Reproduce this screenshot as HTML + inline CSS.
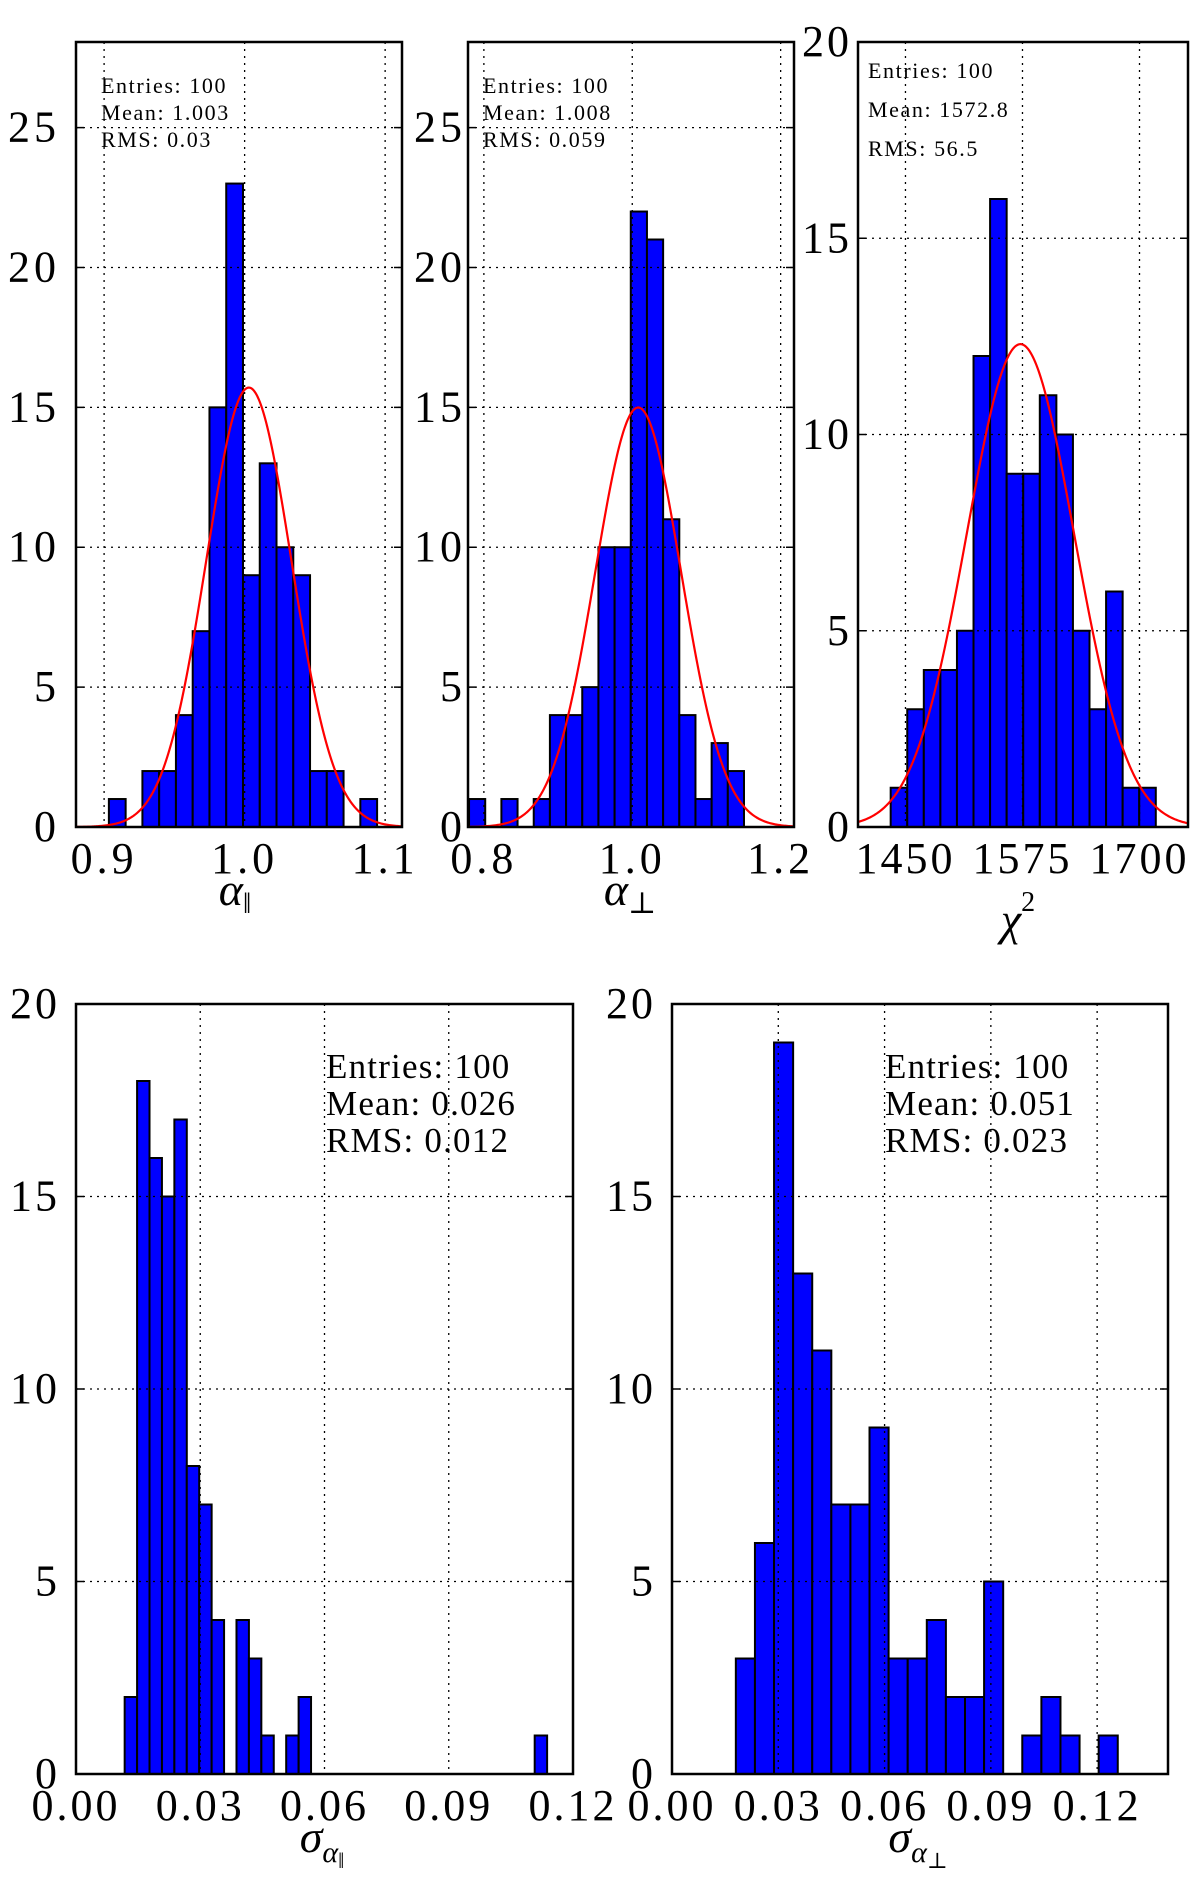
<!DOCTYPE html>
<html><head><meta charset="utf-8"><style>
html,body{margin:0;padding:0;background:#fff}
svg{display:block}
text{font-family:"Liberation Serif","DejaVu Serif",serif;fill:#000}
</style></head><body>
<svg id="fig" width="1200" height="1893" viewBox="0 0 1200 1893" xmlns="http://www.w3.org/2000/svg"></svg>
<script>
// ---- data ----
const p1Counts=[1,0,2,2,4,7,15,23,9,13,10,9,2,2,0,1];
const p1Start=0.9034, p1Width=0.01193;
const p1XTicks=[0.9,1.0,1.1]; const p1XLabels=["0.9","1.0","1.1"];
const p1Stats=["Entries:  100","Mean: 1.003","RMS: 0.03"];
const p1Fit=[1.003,0.0303];

const p2Counts=[1,0,1,0,1,4,4,5,10,10,22,21,11,4,1,3,2];
const p2Start=0.78, p2Width=0.0218;
const p2XTicks=[0.8,1.0,1.2]; const p2XLabels=["0.8","1.0","1.2"];
const p2Stats=["Entries:  100","Mean: 1.008","RMS: 0.059"];
const p2Fit=[1.008,0.058];

const p3Counts=[1,3,4,4,5,12,16,9,9,11,10,5,3,6,1,1];
const p3Start=1434.2, p3Width=17.7;
const p3XTicks=[1450,1575,1700]; const p3XLabels=["1450","1575","1700"];
const p3Stats=["Entries:  100","Mean: 1572.8","RMS: 56.5"];
const p3Fit=[1572.8,57.4];

const p4Counts=[2,18,16,15,17,8,7,4,0,4,3,1,0,1,2,0,0,0,0,0,0,0,0,0,0,0,0,0,0,0,0,0,0,1];
const p4Start=0.01175, p4Width=0.003;
const p4XTicks=[0,0.03,0.06,0.09,0.12]; const p4XLabels=["0.00","0.03","0.06","0.09","0.12"];
const p4Stats=["Entries:  100","Mean:  0.026","RMS: 0.012"];

const p5Counts=[3,6,19,13,11,7,7,9,3,3,4,2,2,5,0,1,2,1,0,1];
const p5Start=0.01802, p5Width=0.00539;
const p5XTicks=[0,0.03,0.06,0.09,0.12]; const p5XLabels=["0.00","0.03","0.06","0.09","0.12"];
const p5Stats=["Entries:  100","Mean:  0.051","RMS: 0.023"];

const topYTicks=[0,5,10,15,20,25];
const chiYTicks=[0,5,10,15,20];
const botYTicks=[0,5,10,15,20];

const NS="http://www.w3.org/2000/svg";
const svg=document.getElementById('fig');
function mk(tag,attrs,parent){const e=document.createElementNS(NS,tag);for(const k in attrs)e.setAttribute(k,attrs[k]);(parent||svg).appendChild(e);return e;}

function panel(o){
  const g=mk('g',{});
  
  
  const sx=v=>o.x0+(v-o.xmin)/(o.xmax-o.xmin)*(o.x1-o.x0);
  const sy=v=>o.y1-(v-0)/(o.ymax)*(o.y1-o.y0);
  o.counts.forEach((c,i)=>{
    if(c<=0)return;
    const a=sx(o.start+i*o.width), b=sx(o.start+(i+1)*o.width);
    const r=mk('rect',{x:a,y:sy(c),width:b-a,height:sy(0)-sy(c),fill:'#0000ff',stroke:'#000','stroke-width':2},g);
    
    
  });
  o.xticks.forEach(t=>{const x=sx(t);const l=mk('line',{x1:x,x2:x,y1:o.y0,y2:o.y1,stroke:'#000','stroke-width':1.3,'stroke-dasharray':'2,5'},g);
    });
  o.yticks.forEach(t=>{const y=sy(t);const l=mk('line',{x1:o.x0,x2:o.x1,y1:y,y2:y,stroke:'#000','stroke-width':1.3,'stroke-dasharray':'2,5'},g);
    
    mk('line',{x1:o.x0,x2:o.x0+8,y1:y,y2:y,stroke:'#000','stroke-width':1.5},g);
    mk('line',{x1:o.x1-8,x2:o.x1,y1:y,y2:y,stroke:'#000','stroke-width':1.5},g);});
  if(o.fit){
    const [mu,s]=o.fit;const amp=100*o.width/(s*Math.sqrt(2*Math.PI));
    let d='';for(let i=0;i<=300;i++){const v=o.xmin+(o.xmax-o.xmin)*i/300;const yv=amp*Math.exp(-0.5*((v-mu)/s)**2);d+=(i?'L':'M')+sx(v).toFixed(2)+','+sy(yv).toFixed(2);}
    const p=mk('path',{d:d,fill:'none',stroke:'#ff0000','stroke-width':2.2},g);
    
  }
  const f=mk('rect',{x:o.x0,y:o.y0,width:o.x1-o.x0,height:o.y1-o.y0,fill:'none',stroke:'#000','stroke-width':2.5},g);
  
  o.xticks.forEach((t,i)=>{const tx=mk('text',{x:sx(t),y:o.y1+46,'font-size':o.fs,'text-anchor':'middle','letter-spacing':o.ls},g);tx.textContent=o.xlabels[i];
    });
  o.yticks.forEach(t=>{const ty=mk('text',{x:o.x0-o.ylpad,y:sy(t)+14,'font-size':o.fs,'text-anchor':'end','letter-spacing':o.ls},g);ty.textContent=String(t);
    });
  o.stats.forEach((s,i)=>{const st=mk('text',{x:o.sx,y:o.sy+i*o.sdy,'font-size':o.sfs,'letter-spacing':o.sls},g);st.textContent=s;
    });
  const al=mk('text',{x:o.lx,y:o.ly,'font-size':46,'font-style':'italic','text-anchor':'middle'},g);
  
  al.innerHTML=o.label;
}

panel({name:'alpha-parallel-panel',x0:76,x1:402,y0:42,y1:827,xmin:0.880,xmax:1.112,ymax:28.06,counts:p1Counts,start:p1Start,width:p1Width,
  xticks:p1XTicks,xlabels:p1XLabels,yticks:topYTicks,fit:p1Fit,fs:44,ls:4,ylpad:16,stats:p1Stats,sx:101,sy:93,sdy:27,sfs:22,sls:1.6,
  lx:235,ly:905,label:'α<tspan font-style="normal" font-size="30" dy="8">‖</tspan>'});
panel({name:'alpha-perp-panel',x0:468,x1:794,y0:42,y1:827,xmin:0.7786,xmax:1.218,ymax:28.06,counts:p2Counts,start:p2Start,width:p2Width,
  xticks:p2XTicks,xlabels:p2XLabels,yticks:topYTicks,fit:p2Fit,fs:44,ls:4,ylpad:2,stats:p2Stats,sx:483,sy:93,sdy:27,sfs:22,sls:1.6,
  lx:630,ly:905,label:'α<tspan font-style="normal" font-size="30" dy="8">⊥</tspan>'});
panel({name:'chi-squared-panel',x0:858,x1:1188,y0:42,y1:827,xmin:1399.3,xmax:1751.8,ymax:20,counts:p3Counts,start:p3Start,width:p3Width,
  xticks:p3XTicks,xlabels:p3XLabels,yticks:chiYTicks,fit:p3Fit,fs:44,ls:3,ylpad:6,stats:p3Stats,sx:868,sy:78,sdy:39,sfs:22,sls:1.6,
  lx:1018,ly:935,label:'χ<tspan font-style="normal" font-size="28" dy="-24">2</tspan>'});
panel({name:'sigma-alpha-parallel-panel',x0:76,x1:573,y0:1004,y1:1774,xmin:0,xmax:0.12,ymax:20,counts:p4Counts,start:p4Start,width:p4Width,
  xticks:p4XTicks,xlabels:p4XLabels,yticks:botYTicks,fit:null,fs:44,ls:3,ylpad:16,stats:p4Stats,sx:326,sy:1078,sdy:37,sfs:35,sls:1.2,
  lx:322,ly:1852,label:'σ<tspan font-size="30" dy="10">α</tspan><tspan font-style="normal" font-size="22" dy="6">‖</tspan>'});
panel({name:'sigma-alpha-perp-panel',x0:672,x1:1168,y0:1004,y1:1774,xmin:0,xmax:0.14,ymax:20,counts:p5Counts,start:p5Start,width:p5Width,
  xticks:p5XTicks,xlabels:p5XLabels,yticks:botYTicks,fit:null,fs:44,ls:3,ylpad:16,stats:p5Stats,sx:885,sy:1078,sdy:37,sfs:35,sls:1.2,
  lx:918,ly:1852,label:'σ<tspan font-size="30" dy="10">α</tspan><tspan font-style="normal" font-size="22" dy="6">⊥</tspan>'});
</script>
</body></html>
